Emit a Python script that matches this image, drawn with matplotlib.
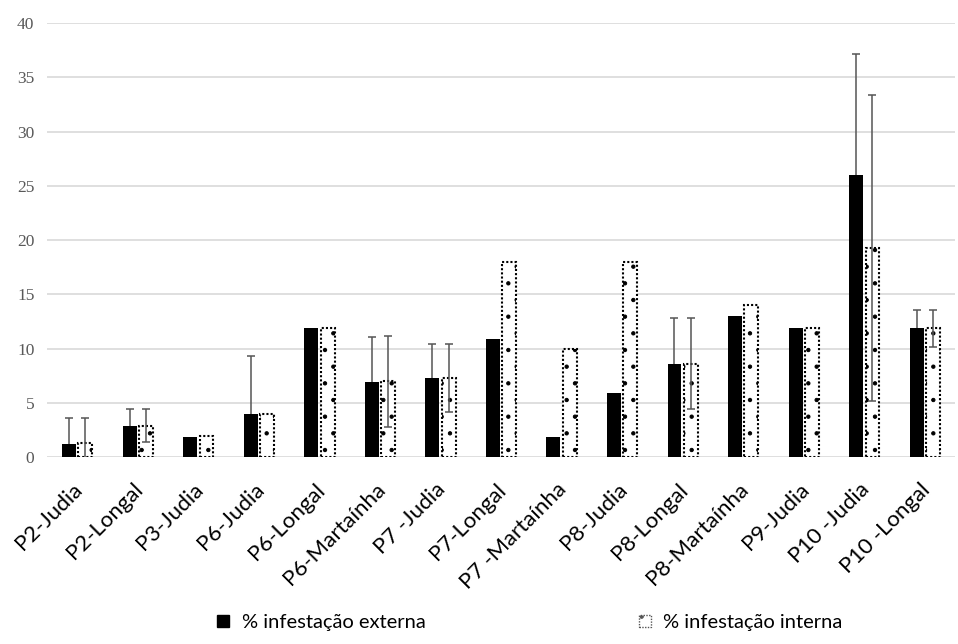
import numpy as np
import matplotlib.pyplot as plt
import matplotlib.transforms as mtransforms
from matplotlib.patches import Patch

# Data
categorias = ['P2-Judia', 'P2-Longal', 'P3-Judia', 'P6-Judia', 'P6-Longal',
              'P6-Martaínha', 'P7 -Judia', 'P7-Longal', 'P7 -Martaínha',
              'P8-Judia', 'P8-Longal', 'P8-Martaínha', 'P9-Judia',
              'P10 -Judia', 'P10 -Longal']
externa = [1.2, 2.9, 1.9, 4.0, 11.9, 6.9, 7.3, 10.9, 1.9, 5.9, 8.6, 13.0, 11.9, 26.0, 11.9]
externa_err = [2.4, 1.5, 0, 5.3, 0, 4.2, 3.1, 0, 0, 0, 4.2, 0, 0, 11.2, 1.7]
interna = [1.3, 2.9, 2.0, 4.0, 11.9, 7.0, 7.3, 18.0, 10.0, 18.0, 8.6, 14.0, 11.9, 19.3, 11.9]
interna_err = [2.3, 1.5, 0, 0, 0, 4.2, 3.1, 0, 0, 0, 4.2, 0, 0, 14.1, 1.7]

sans = ['Lato', 'DejaVu Sans']
plt.rcParams['hatch.linewidth'] = 0.7

fig = plt.figure(figsize=(9.58, 6.44), dpi=100)
ax = fig.add_axes([0.049, 0.290, 0.948, 0.674])

x = np.arange(len(categorias))
w = 0.23
gap = 0.04

err_kw = dict(ecolor='#555555', elinewidth=1.1, capsize=3, capthick=1.1)

ext_err = [e if e > 0 else np.nan for e in externa_err]
int_err = [e if e > 0 else np.nan for e in interna_err]

# external bars (error bar behind the black bar, only upper half shows)
ax.errorbar(x - w / 2 - gap / 2, externa, yerr=ext_err, fmt='none', zorder=2, **err_kw)
ax.bar(x - w / 2 - gap / 2, externa, w, color='black', zorder=3)

# internal bars, dotted outline with sparse dot fill
ax.bar(x + w / 2 + gap / 2, interna, w, facecolor='white', edgecolor='black',
       linestyle=(0, (1, 1)), linewidth=1.5, hatch='.', zorder=3)
ax.errorbar(x + w / 2 + gap / 2, interna, yerr=int_err, fmt='none', zorder=4, **err_kw)

ax.set_xlim(-0.5, len(categorias) - 0.5)
ax.set_ylim(0, 40)
ax.set_yticks(range(0, 41, 5))
ax.yaxis.grid(True, color='#d9d9d9', linewidth=1.2, zorder=0)
ax.set_axisbelow(True)
for s in ax.spines.values():
    s.set_visible(False)
ax.tick_params(axis='both', length=0)
ax.tick_params(axis='y', pad=9)

for lab in ax.get_yticklabels():
    lab.set_fontfamily(['Liberation Serif', 'DejaVu Serif'])
    lab.set_fontsize(12.5)
    lab.set_color('#595959')

ax.set_xticks(x)
ax.set_xticklabels(categorias, rotation=45, ha='right', rotation_mode='anchor',
                   family=sans, fontsize=16, color='black')
ax.tick_params(axis='x', pad=16)
shift = mtransforms.ScaledTranslation(-5 / 100, 0, fig.dpi_scale_trans)
for lab in ax.get_xticklabels():
    lab.set_transform(lab.get_transform() + shift)

handles = [Patch(facecolor='black', edgecolor='black'),
           Patch(facecolor='white', edgecolor='#555555', linestyle=(0, (1, 1)), hatch='.')]
fig.legend(handles, ['% infestação externa', '% infestação interna'],
           loc='lower center', bbox_to_anchor=(0.553, -0.008), ncol=2, frameon=False,
           handlelength=0.6, handleheight=0.6, handletextpad=0.6, columnspacing=10.6,
           prop={'family': sans, 'size': 14.5})

fig.savefig('out.png', dpi=100)
